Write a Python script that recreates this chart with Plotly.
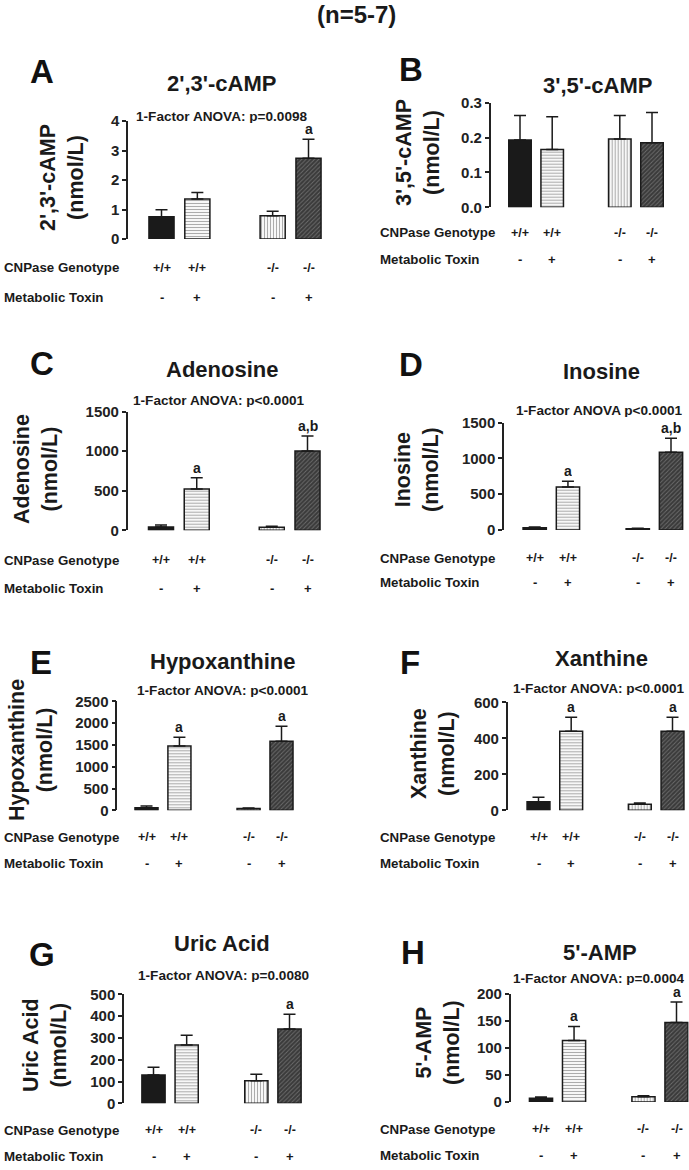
import plotly.graph_objects as go

W, H = 689, 1170
FONT = "Liberation Sans, Arial, sans-serif"

# ---------------- data ----------------
genotype = ["+/+", "+/+", "-/-", "-/-"]
toxin = ["-", "+", "-", "+"]

panel_letters = ["A", "B", "C", "D", "E", "F", "G", "H"]
titles = ["2',3'-cAMP", "3',5'-cAMP", "Adenosine", "Inosine",
          "Hypoxanthine", "Xanthine", "Uric Acid", "5'-AMP"]
ytitles = ["2',3'-cAMP<br>(nmol/L)", "3',5'-cAMP<br>(nmol/L)", "Adenosine<br>(nmol/L)",
           "Inosine<br>(nmol/L)", "Hypoxanthine<br>(nmol/L)", "Xanthine<br>(nmol/L)",
           "Uric Acid<br>(nmol/L)", "5'-AMP<br>(nmol/L)"]
anova = ["1-Factor ANOVA: p=0.0098", "", "1-Factor ANOVA: p<0.0001",
         "1-Factor ANOVA p<0.0001", "1-Factor ANOVA: p<0.0001",
         "1-Factor ANOVA: p<0.0001", "1-Factor ANOVA: p=0.0080",
         "1-Factor ANOVA: p=0.0004"]

mean_A = [0.75, 1.36, 0.79, 2.74]
sem_A = [0.24, 0.22, 0.15, 0.64]
sig_A = ["", "", "", "a"]

mean_B = [0.193, 0.166, 0.196, 0.185]
sem_B = [0.070, 0.094, 0.067, 0.087]
sig_B = ["", "", "", ""]

mean_C = [42, 522, 40, 1002]
sem_C = [25, 143, 10, 190]
sig_C = ["", "a", "", "a,b"]

mean_D = [32, 601, 18, 1087]
sem_D = [10, 79, 7, 195]
sig_D = ["", "a", "", "a,b"]

mean_E = [61, 1475, 40, 1583]
sem_E = [39, 199, 12, 344]
sig_E = ["", "a", "", "a"]

mean_F = [48, 439, 33, 439]
sem_F = [24, 78, 8, 78]
sig_F = ["", "a", "", "a"]

mean_G = [130, 268, 104, 341]
sem_G = [35, 44, 29, 67]
sig_G = ["", "", "", "a"]

mean_H = [6.8, 114, 9.9, 147]
sem_H = [2.5, 26, 1.8, 38]
sig_H = ["", "a", "", "a"]

means = [mean_A, mean_B, mean_C, mean_D, mean_E, mean_F, mean_G, mean_H]
sems = [sem_A, sem_B, sem_C, sem_D, sem_E, sem_F, sem_G, sem_H]
sigs = [sig_A, sig_B, sig_C, sig_D, sig_E, sig_F, sig_G, sig_H]

y_max = [4, 0.3, 1500, 1500, 2500, 600, 500, 200]
y_dtick = [1, 0.1, 500, 500, 500, 200, 100, 50]
y_fmt = ["", ".1f", "", "", "", "", "", ""]

# ---------------- layout geometry (pixels) ----------------
xpos = [0, 1, 3.1, 4.1]
# axis_x, bar1 centre, bar4 centre, y0 px, ymax px
geom = [
    (128.0, 161.5, 308.5, 239.0, 121.0),
    (490.7, 520.0, 652.0, 207.3, 102.7),
    (127.7, 161.0, 307.5, 530.3, 411.7),
    (504.0, 534.7, 671.0, 530.0, 422.7),
    (117.3, 146.5, 281.5, 810.3, 701.3),
    (507.7, 538.5, 672.5, 810.3, 702.3),
    (124.0, 153.5, 289.5, 1103.3, 994.3),
    (510.7, 541.0, 676.5, 1102.0, 994.0),
]
letter_pos = [(42, 71), (411, 69), (42, 363), (411, 364),
              (41, 662), (410, 662), (42, 954), (413, 952)]
title_pos = [(222, 84), (598, 86), (222, 369), (601, 371),
             (222, 661), (601, 658), (222, 943), (600, 952)]
anova_pos = [(222, 116), None, (219, 400), (599, 410),
             (223, 690), (599, 688), (223, 975), (599, 978)]
ytitle_pos = [(62, 178), (418, 153), (36, 469), (417, 470),
              (31, 750), (433, 753), (45, 1045), (438, 1043)]
rows_pos = [(2, 268, 297), (378, 233, 259), (2, 560, 588), (378, 558, 582),
            (2, 837, 863), (378, 837, 863), (2, 1130, 1156), (378, 1129, 1155)]

# bar styles: solid black, horizontal lines, vertical lines, dark diagonal
bar_color = ["#1a1a1a", "white", "white", "#3a3a3a"]
pat_shape = ["", "-", "|", "/"]
pat_fg = ["#1a1a1a", "#5a5a5a", "#5a5a5a", "#a0a0a0"]
pat_sol = [0.5, 0.4, 0.4, 0.3]
pat_size = [4, 3, 3, 3]


def pxx(p):
    return p / W


def pxy(p):
    return 1 - p / H


fig = go.Figure()
annotations = []
layout = {}

for i in range(8):
    n = i + 1
    xa = "x" if n == 1 else f"x{n}"
    ya = "y" if n == 1 else f"y{n}"
    ax_x, c1, c4, y0p, ytp = geom[i]
    unit = (c4 - c1) / 4.1
    right_px = min(c4 + 0.62 * unit, W - 0.5)
    x_left = -(c1 - ax_x) / unit
    x_right = 4.1 + (right_px - c4) / unit
    dom_x = [pxx(ax_x), pxx(right_px)]
    dom_y = [pxy(y0p), pxy(ytp)]

    for k in range(4):
        fig.add_trace(go.Bar(
            x=[xpos[k]], y=[means[i][k]], xaxis=xa, yaxis=ya, width=0.7,
            marker=dict(
                color=bar_color[k],
                line=dict(color="#1a1a1a", width=1.5),
                pattern=dict(shape=pat_shape[k], fgcolor=pat_fg[k],
                             size=pat_size[k], solidity=pat_sol[k],
                             fillmode="overlay"),
            ),
            error_y=dict(type="data", symmetric=False, array=[sems[i][k]],
                         arrayminus=[0], color="#1a1a1a",
                         thickness=1.5, width=6),
            showlegend=False, hoverinfo="skip",
        ))

    layout["xaxis" if n == 1 else f"xaxis{n}"] = dict(
        domain=dom_x, range=[x_left, x_right], visible=False,
        anchor=ya, fixedrange=True, automargin=False)
    layout["yaxis" if n == 1 else f"yaxis{n}"] = dict(
        domain=dom_y, range=[0, y_max[i]], dtick=y_dtick[i], tick0=0,
        tickformat=y_fmt[i], showline=True, linecolor="#222", linewidth=1.5,
        ticks="outside", ticklen=4, tickwidth=1.5, tickcolor="#222",
        showgrid=False, zeroline=False, anchor=xa, automargin=False,
        fixedrange=True,
        tickfont=dict(family=FONT, size=15, color="#222", weight="bold"))

    lx, ly = letter_pos[i]
    annotations.append(dict(text=panel_letters[i], x=pxx(lx), y=pxy(ly),
                            xref="paper", yref="paper", showarrow=False,
                            xanchor="center", yanchor="middle",
                            font=dict(family=FONT, size=33, color="#111", weight="bold")))
    tx, ty = title_pos[i]
    annotations.append(dict(text=titles[i], x=pxx(tx), y=pxy(ty),
                            xref="paper", yref="paper", showarrow=False,
                            xanchor="center", yanchor="middle",
                            font=dict(family=FONT, size=22, color="#1a1a1a", weight="bold")))
    if anova[i]:
        axp, ayp = anova_pos[i]
        annotations.append(dict(text=anova[i], x=pxx(axp), y=pxy(ayp),
                                xref="paper", yref="paper", showarrow=False,
                                xanchor="center", yanchor="middle",
                                height=14, borderpad=0,
                                font=dict(family=FONT, size=13.6, color="#1a1a1a", weight="bold")))
    yx, yy = ytitle_pos[i]
    annotations.append(dict(text=ytitles[i], x=pxx(yx), y=pxy(yy),
                            xref="paper", yref="paper", showarrow=False,
                            xanchor="center", yanchor="middle", textangle=-90,
                            font=dict(family=FONT, size=21.5, color="#1a1a1a", weight="bold")))
    rx, r1, r2 = rows_pos[i]
    annotations.append(dict(text="CNPase Genotype", x=pxx(rx), y=pxy(r1),
                            xref="paper", yref="paper", showarrow=False,
                            xanchor="left", yanchor="middle",
                            font=dict(family=FONT, size=13.3, color="#1a1a1a", weight="bold")))
    annotations.append(dict(text="Metabolic Toxin", x=pxx(rx), y=pxy(r2),
                            xref="paper", yref="paper", showarrow=False,
                            xanchor="left", yanchor="middle",
                            font=dict(family=FONT, size=13.3, color="#1a1a1a", weight="bold")))
    for k in range(4):
        annotations.append(dict(text=genotype[k], x=xpos[k], y=pxy(r1),
                                xref=xa, yref="paper", showarrow=False,
                                xanchor="center", yanchor="middle",
                                font=dict(family=FONT, size=12.5, color="#1a1a1a", weight="bold")))
        annotations.append(dict(text=toxin[k], x=xpos[k], y=pxy(r2),
                                xref=xa, yref="paper", showarrow=False,
                                xanchor="center", yanchor="middle",
                                font=dict(family=FONT, size=13, color="#1a1a1a", weight="bold")))
        if sigs[i][k]:
            annotations.append(dict(text=sigs[i][k], x=xpos[k],
                                    y=means[i][k] + sems[i][k],
                                    xref=xa, yref=ya, showarrow=False,
                                    xanchor="center", yanchor="bottom", yshift=1,
                                    height=15, borderpad=0, valign="bottom",
                                    font=dict(family=FONT, size=14, color="#1a1a1a", weight="bold")))

annotations.append(dict(text="(n=5-7)", x=pxx(356), y=pxy(15),
                        xref="paper", yref="paper", showarrow=False,
                        xanchor="center", yanchor="middle",
                        font=dict(family=FONT, size=24, color="#1a1a1a", weight="bold")))

fig.update_layout(
    width=W, height=H, autosize=False,
    margin=dict(l=0, r=0, t=0, b=0, pad=0, autoexpand=False),
    paper_bgcolor="white", plot_bgcolor="white",
    annotations=annotations,
    barmode="overlay",
    **layout,
)

fig.write_html("out.html",
               config={"displayModeBar": False, "responsive": False},
               post_script="document.body.style.margin='0';"
                           "document.documentElement.style.overflow='hidden';"
                           "document.body.style.overflow='hidden';")
